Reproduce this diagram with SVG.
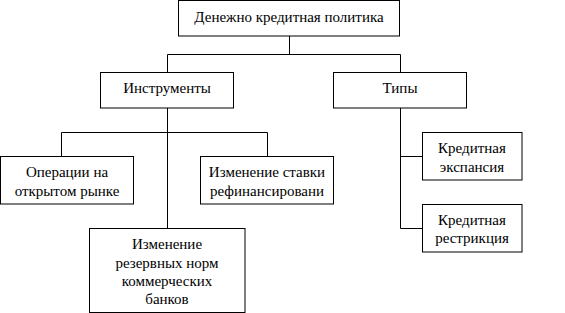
<svg xmlns="http://www.w3.org/2000/svg" width="565" height="313" viewBox="0 0 565 313">
<style>
rect{fill:#fff;stroke:#000;stroke-width:1}
path{stroke:#000;stroke-width:1;fill:none}
text{font-family:'Liberation Serif','Times New Roman',serif;font-size:15px;text-anchor:middle;fill:#000}
</style>
<rect width="565" height="313" style="stroke:none"/>
<g id="connectors">
<path d="M289.5 36V54.5M167.5 54.5H400.5M167.5 54.5V72M400.5 54.5V72"/>
<path d="M167.5 108V228M61.5 132.5H267.5M61.5 132.5V156M267.5 132.5V156"/>
<path d="M400.5 108V228.5H422M400.5 156.5H422"/>
</g>
<g id="n-root"><rect x="178.5" y="0.5" width="221" height="35.5"/><text x="289" y="22">Денежно кредитная политика</text></g>
<g id="n-instr"><rect x="100.5" y="72.5" width="133" height="35.5"/><text x="167" y="93">Инструменты</text></g>
<g id="n-types"><rect x="333.5" y="72.5" width="133" height="35.5"/><text x="400" y="93">Типы</text></g>
<g id="n-ops"><rect x="0.5" y="156.5" width="133" height="47.5"/><text x="67" y="177">Операции на</text><text x="67" y="196">открытом рынке</text></g>
<g id="n-rate"><rect x="200.5" y="156.5" width="133" height="47.5"/><text x="267" y="177">Изменение ставки</text><text x="267" y="196">рефинансировани</text></g>
<g id="n-reserve"><rect x="89.5" y="228.5" width="155.5" height="84"/><text x="167" y="249">Изменение</text><text x="167" y="267.5">резервных норм</text><text x="167" y="286">коммерческих</text><text x="167" y="304">банков</text></g>
<g id="n-exp"><rect x="422.5" y="132.5" width="99.5" height="47.5"/><text x="472" y="153">Кредитная</text><text x="472" y="172">экспансия</text></g>
<g id="n-restr"><rect x="422.5" y="204.5" width="99.5" height="47.5"/><text x="472" y="225">Кредитная</text><text x="472" y="243">рестрикция</text></g>
</svg>
